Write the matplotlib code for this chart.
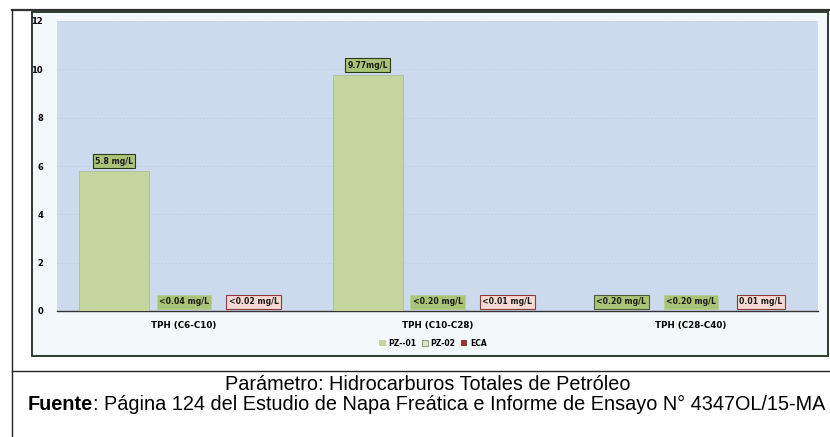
import matplotlib
matplotlib.use("Agg")
import matplotlib.pyplot as plt
from matplotlib.patches import Rectangle, Patch
from matplotlib.lines import Line2D
import numpy as np

categories = ["TPH (C6-C10)", "TPH (C10-C28)", "TPH (C28-C40)"]
series_names = ["PZ--01", "PZ-02", "ECA"]
pz01 = [5.8, 9.77, 0.0]
pz02 = [0.0, 0.0, 0.0]
eca = [0.0, 0.0, 0.0]
pz01_labels = ["5.8 mg/L", "9.77mg/L", "<0.20 mg/L"]
pz02_labels = ["<0.04 mg/L", "<0.20 mg/L", "<0.20 mg/L"]
eca_labels = ["<0.02 mg/L", "<0.01 mg/L", "0.01 mg/L"]
yticks = [0, 2, 4, 6, 8, 10, 12]
caption1 = "Parámetro: Hidrocarburos Totales de Petróleo"
caption2_bold = "Fuente"
caption2_rest = ": Página 124 del Estudio de Napa Freática e Informe de Ensayo N° 4347OL/15-MA"

W, H = 830, 437
fig = plt.figure(figsize=(W / 100, H / 100), dpi=100)
fig.patch.set_facecolor("white")

def fx(x):
    return x / W

def fy(y):
    return 1 - y / H

# outer table lines
fig.add_artist(Line2D([fx(12), fx(830)], [fy(10), fy(10)], color="#333333", lw=1.6, zorder=5))
fig.add_artist(Line2D([fx(12), fx(12)], [fy(10), fy(437)], color="#222222", lw=1.0, zorder=5))
fig.add_artist(Line2D([fx(12), fx(830)], [fy(371), fy(371)], color="#222222", lw=1.0, zorder=5))

# chart area frame
fig.add_artist(Rectangle((fx(32), fy(356)), fx(828) - fx(32), fy(12) - fy(356),
                         facecolor="#f3f8fa", edgecolor="#2f3a2f", lw=1.4, zorder=-5))

ax = fig.add_axes([fx(57), fy(311), fx(818) - fx(57), fy(21) - fy(311)])
ax.set_zorder(2)
ax.set_facecolor("#cddaee")
ax.set_ylim(0, 12)
ax.set_xlim(-0.5, 2.5)

x = np.arange(len(categories))
bw = 0.275
bar_color = "#c4d59e"
ax.bar(x - bw, pz01, bw, color=bar_color, edgecolor="#9fae86", lw=0.4, zorder=3)
ax.bar(x, pz02, bw, color=bar_color, zorder=3)
ax.bar(x + bw, eca, bw, color="#953735", zorder=3)

for y in yticks[1:]:
    ax.axhline(y, color="#bcc8d8", lw=0.5, ls=(0, (2, 3)), zorder=1)

lab_font = dict(fontsize=5.6, fontweight="bold", family="DejaVu Sans", color="#1a1a1a")
for i in range(3):
    if pz01[i] > 0.5:
        ax.text(x[i] - bw, pz01[i] + 0.22, pz01_labels[i], ha="center", va="bottom", zorder=5,
                bbox=dict(boxstyle="square,pad=0.3", fc="#a9c477", ec="#2d3a1a", lw=0.8), **lab_font)
    else:
        ax.text(x[i] - bw, 0.2, pz01_labels[i], ha="center", va="bottom", zorder=5,
                bbox=dict(boxstyle="square,pad=0.3", fc="#a9c477", ec="#4d5a3a", lw=0.8), **lab_font)
    ax.text(x[i], pz02[i] + 0.2, pz02_labels[i], ha="center", va="bottom", zorder=5,
            bbox=dict(boxstyle="square,pad=0.3", fc="#a9c477", ec="#b8cf90", lw=0.5), **lab_font)
    ax.text(x[i] + bw, eca[i] + 0.2, eca_labels[i], ha="center", va="bottom", zorder=5,
            bbox=dict(boxstyle="square,pad=0.3", fc="#f6d9d2", ec="#8a3a3a", lw=0.8), **lab_font)

ax.set_yticks(yticks)
ax.set_yticklabels([str(v) for v in yticks], fontsize=6, fontweight="bold")
ax.tick_params(axis="y", length=0, pad=10)
ax.set_xticks(x)
ax.set_xticklabels(categories, fontsize=6.3, fontweight="bold")
ax.tick_params(axis="x", length=0, pad=7)
for s in ["top", "right", "left"]:
    ax.spines[s].set_visible(False)
ax.spines["bottom"].set_color("#333333")
ax.spines["bottom"].set_linewidth(1.0)

handles = [Patch(facecolor=bar_color, edgecolor="none"),
           Patch(facecolor="#d9e6c3", edgecolor="#7f8f6f", lw=0.6),
           Patch(facecolor="#953735", edgecolor="none")]
leg = fig.legend(handles, series_names, loc="center", bbox_to_anchor=(fx(433), fy(343)), ncol=3,
                 frameon=False, prop=dict(size=5.5, weight="bold"), handlelength=0.8, handleheight=0.8,
                 handletextpad=0.3, columnspacing=0.8)
leg.set_zorder(6)

cap_family = ["Liberation Sans", "DejaVu Sans"]
fs = 14.3
fig.text(fx(428), fy(384), caption1, ha="center", va="center", fontsize=fs, family=cap_family)
t1 = fig.text(fx(28), fy(404), caption2_bold, ha="left", va="center", fontsize=fs,
              family=cap_family, fontweight="bold")
fig.canvas.draw()
bb = t1.get_window_extent()
fig.text(bb.x1 / W, fy(404), caption2_rest, ha="left", va="center", fontsize=fs, family=cap_family)

fig.savefig("out.png", dpi=100)
